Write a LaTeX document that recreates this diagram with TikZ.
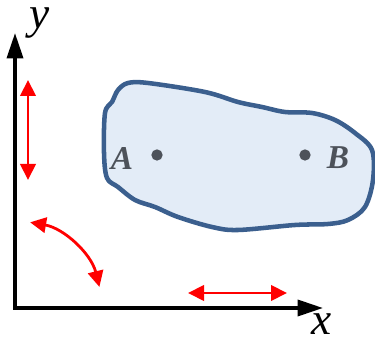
\documentclass[tikz,border=0pt]{standalone}
\usepackage{fontspec}
\setmainfont{Liberation Serif}
\usetikzlibrary{arrows.meta}
\definecolor{blobline}{HTML}{3B5F8E}
\definecolor{blobfill}{HTML}{E3ECF7}
\definecolor{dotgray}{HTML}{4D525A}
\tikzset{
  axis/.style={line width=2.6pt, -{Triangle[length=19pt,width=12pt]}},
  redarrow/.style={red, line width=2.1pt, {Triangle[length=12pt,width=11.5pt]}-{Triangle[length=12pt,width=11.5pt]}},
  axislabel/.style={font=\fontsize{34}{34}\selectfont\itshape, inner sep=0pt, text height=0.45em, text depth=0.2em},
  ptlabel/.style={font=\fontsize{25}{25}\selectfont\bfseries\itshape, text=dotgray, inner sep=0pt},
  dotstyle/.style={circle, fill=dotgray, minimum size=8.5pt, inner sep=0pt},
}
\begin{document}
\begin{tikzpicture}[x=0.75pt,y=0.75pt]
\useasboundingbox (0,0) rectangle (375,349);
% blob
\draw[blobline, fill=blobfill, line width=3.4pt, line join=round]
  plot[smooth cycle, tension=0.55] coordinates {
  (118,259) (128,266) (148,266) (205,257) (238,247) (262,242) (285,237)
  (312,236) (335,229) (355,216) (372,199) (373,169) (365,142) (348,129)
  (328,125) (295,124) (238,119) (212,122) (178,132) (155,142) (135,149)
  (118,162) (107,171) (104,196) (105,236) (112,247)};
\node[dotstyle] (dA) at (157,194) {};
\node[dotstyle] (dB) at (305,194) {};
\node[ptlabel] (lA) at (122,190) {A};
\node[ptlabel] (lB) at (338,191) {B};
% axes
\coordinate (O) at (15,41);
\coordinate (ytip) at (15,316);
\coordinate (xtip) at (323,41);
\draw[axis] ([xshift=-1.3pt]O) -- (xtip);
\draw[axis] ([yshift=-1.3pt]O) -- (ytip);
\node[axislabel] (ylab) at (40,322) {y};
\node[axislabel] (xlab) at (322,16) {x};
% red arrows
\coordinate (v1) at (28,269);
\coordinate (v2) at (28,169);
\draw[redarrow] (v1) -- (v2);
\coordinate (h1) at (188,56);
\coordinate (h2) at (287,56);
\draw[redarrow] (h1) -- (h2);
\draw[redarrow] (O) ++(80:87) arc[start angle=80, end angle=14, radius=87];
\end{tikzpicture}
\end{document}
